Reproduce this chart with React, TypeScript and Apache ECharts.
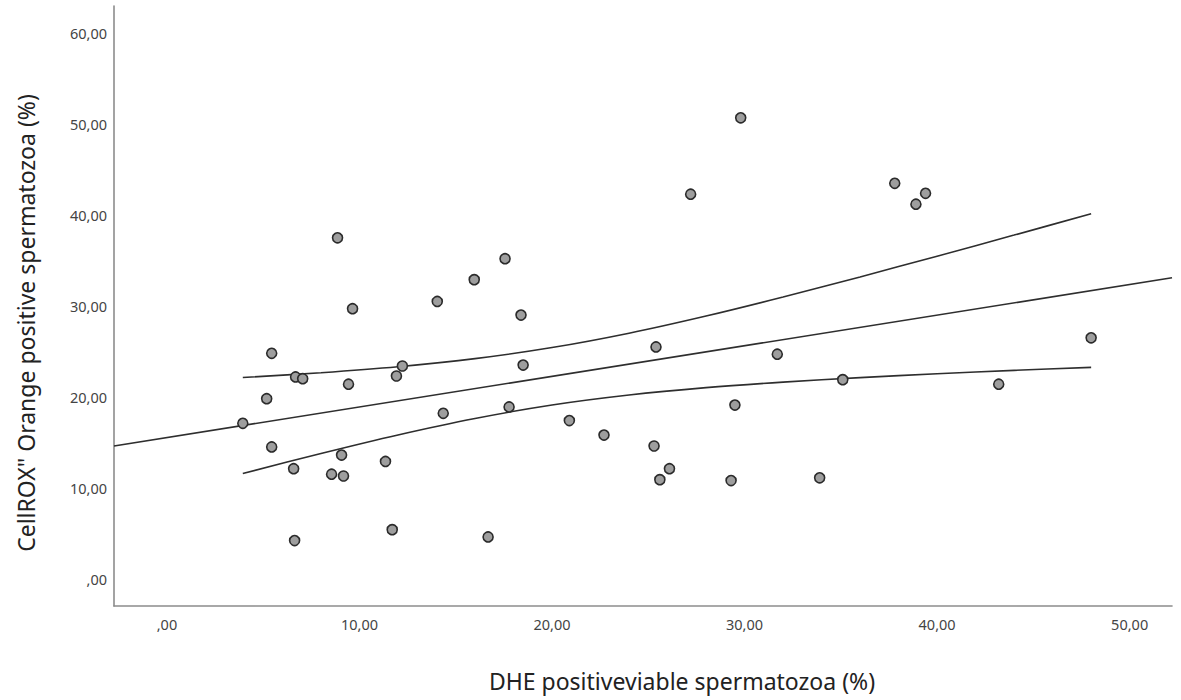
import React, { useEffect, useRef } from "react";
import * as echarts from "echarts";

// Scatter data
const dheX = [
  3.94, 5.18, 5.44, 5.44, 6.58, 6.63, 6.68, 7.05, 8.55, 8.86, 9.07, 9.17, 9.43, 9.64,
  11.35, 11.7, 11.92, 12.23, 14.04, 14.35, 15.96, 16.68, 17.56, 17.77, 18.39, 18.5,
  20.9, 22.7, 25.3, 25.4, 25.6, 26.1, 27.2, 29.3, 29.5, 29.8, 31.7, 33.9, 35.1, 37.8,
  38.9, 39.4, 43.2, 48.0,
];
const cellroxY = [
  17.1, 19.8, 24.8, 14.5, 12.1, 4.2, 22.2, 22.0, 11.5, 37.5, 13.6, 11.3, 21.4, 29.7,
  12.9, 5.4, 22.3, 23.4, 30.5, 18.2, 32.9, 4.6, 35.2, 18.9, 29.0, 23.5,
  17.4, 15.8, 14.6, 25.5, 10.9, 12.1, 42.3, 10.8, 19.1, 50.7, 24.7, 11.1, 21.9, 43.5,
  41.2, 42.4, 21.4, 26.5,
];

// Fit line and confidence band as drawn in the reference
const fitX = [-2.75, 52.2];
const fitY = [14.6, 33.1];
const bandX = [3.94, 8, 12, 16, 20, 24, 28, 32, 36, 40, 44, 48];
const upperY = [22.13, 22.66, 23.32, 24.21, 25.43, 27.01, 28.9, 30.99, 33.2, 35.48, 37.8, 40.15];
const lowerY = [11.57, 13.78, 15.82, 17.63, 19.11, 20.21, 21.02, 21.63, 22.12, 22.54, 22.92, 23.25];

const xTicks = [0, 10, 20, 30, 40, 50];
const yTicks = [0, 10, 20, 30, 40, 50, 60];

const xTitle = "DHE positiveviable spermatozoa (%)";
const yTitle = "CellROX\" Orange positive spermatozoa (%)";

const fmt = (v: number) => (v === 0 ? ",00" : v.toFixed(2).replace(".", ","));
const zip = (a: number[], b: number[]) => a.map((v, i) => [v, b[i]]);

export default function App() {
  const ref = useRef<HTMLDivElement>(null);

  useEffect(() => {
    document.body.style.margin = "0";
    if (!ref.current) return;
    const chart = echarts.init(ref.current, undefined, { renderer: "svg" });
    const lineColor = "#2e2e2e";
    const font = "'Noto Sans', 'Open Sans', sans-serif";
    chart.setOption({
      animation: false,
      backgroundColor: "#ffffff",
      grid: { left: 114, right: 9, top: 6, bottom: 94, containLabel: false },
      xAxis: {
        type: "value",
        min: -2.75,
        max: 52.2,
        axisLine: { show: true, onZero: false, lineStyle: { color: "#8c8c8c", width: 1.6 } },
        axisTick: { show: false },
        splitLine: { show: false },
        axisLabel: {
          customValues: xTicks,
          formatter: fmt,
          color: "#444",
          fontSize: 14.5,
          fontFamily: font,
          margin: 10,
        },
      },
      yAxis: {
        type: "value",
        min: -3,
        max: 63,
        axisLine: { show: true, onZero: false, lineStyle: { color: "#8c8c8c", width: 1.6 } },
        axisTick: { show: false },
        splitLine: { show: false },
        axisLabel: {
          customValues: yTicks,
          formatter: fmt,
          color: "#444",
          fontSize: 14.5,
          fontFamily: font,
          margin: 7,
        },
      },
      graphic: [
        {
          type: "text",
          x: 26,
          y: 323,
          rotation: Math.PI / 2,
          style: {
            text: yTitle,
            fill: "#222",
            font: `23px ${font}`,
            align: "center",
            verticalAlign: "middle",
          },
        },
        {
          type: "text",
          x: 682,
          y: 681,
          style: {
            text: xTitle,
            fill: "#222",
            font: `23px ${font}`,
            align: "center",
            verticalAlign: "middle",
          },
        },
      ],
      series: [
        {
          type: "line",
          data: zip(fitX, fitY),
          showSymbol: false,
          lineStyle: { color: lineColor, width: 1.6 },
          z: 2,
        },
        {
          type: "line",
          data: zip(bandX, upperY),
          showSymbol: false,
          smooth: 0.3,
          lineStyle: { color: lineColor, width: 1.6 },
          z: 2,
        },
        {
          type: "line",
          data: zip(bandX, lowerY),
          showSymbol: false,
          smooth: 0.3,
          lineStyle: { color: lineColor, width: 1.6 },
          z: 2,
        },
        {
          type: "scatter",
          data: zip(dheX, cellroxY),
          symbol: "circle",
          symbolSize: 10,
          itemStyle: { color: "#9e9e9e", borderColor: "#2b2b2b", borderWidth: 1.6, opacity: 1 },
          z: 3,
        },
      ],
    });
    return () => chart.dispose();
  }, []);

  return <div ref={ref} style={{ width: 1181, height: 700 }} />;
}
